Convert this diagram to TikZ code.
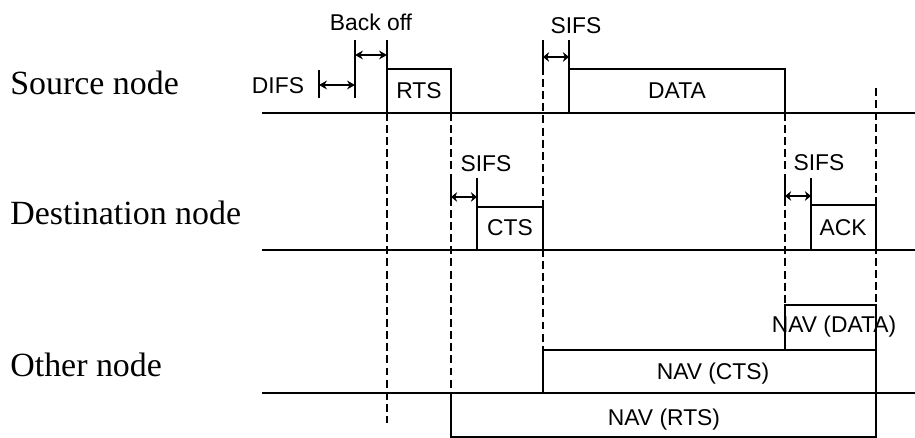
\documentclass[tikz,border=0pt]{standalone}
\usepackage{fontspec}
\setmainfont{Liberation Serif}
\newfontfamily\labelfont{Liberation Sans}
\usetikzlibrary{arrows.meta}

\begin{document}
\begin{tikzpicture}[x=0.02cm,y=-0.02cm,
    frame/.style={line width=1.1pt},
    guide/.style={line width=1.1pt,dash pattern=on 4.5pt off 2.4pt},
    gap/.style={line width=1.1pt,{Stealth[length=4.5pt,width=5pt]}-{Stealth[length=4.5pt,width=5pt]}},
    sifs/.style={line width=1.6pt,{Stealth[length=3.5pt,width=5.5pt]}-{Stealth[length=3.5pt,width=5.5pt]}},
    lbl/.style={font=\labelfont\fontsize{13}{15}\selectfont,inner sep=0pt},
    station/.style={font=\fontsize{19.3}{22}\selectfont,anchor=base west,inner sep=0pt}]
  \useasboundingbox (0,0) rectangle (915,438);

  %% Station names
  \node[station] (src) at (10,95)  {Source node};
  \node[station] (dst) at (10,225) {Destination node};
  \node[station] (oth) at (10,377) {Other node};

  %% Time axes
  \draw[frame] (262,113) -- (915,113);
  \draw[frame] (262,250) -- (915,250);
  \draw[frame] (262,393) -- (915,393);

  %% Vertical guides
  \draw[guide] (387,113) -- (387,423);
  \draw[guide] (451,113) -- (451,393);
  \draw[guide] (543,67) -- (543,350);
  \draw[guide] (785,113) -- (785,305);
  \draw[guide] (876,88) -- (876,305);

  %% Source node: DIFS, back off, RTS, SIFS, DATA
  \draw[frame] (319,70) -- (319,98);
  \draw[frame] (355,40) -- (355,98);
  \draw[frame] (387,40) -- (387,113);
  \draw[gap] (319,85) -- (355,85);
  \draw[gap] (355,55) -- (387,55);
  \node[lbl] (difs) at (278,86) {DIFS};
  \node[lbl] (boff) at (371,22) {Back off};
  \draw[frame] (387,69) rectangle (451,113);
  \node[lbl] (rts) at (419,91) {RTS};
  \draw[frame] (543,40) -- (543,67);
  \draw[frame] (569,40) -- (569,113);
  \draw[sifs] (543,57) -- (569,57);
  \node[lbl] (sifsa) at (576,26) {SIFS};
  \draw[frame] (569,69) rectangle (785,113);
  \node[lbl] (data) at (677,91) {DATA};

  %% Destination node: SIFS, CTS, SIFS, ACK
  \draw[frame] (451,175) -- (451,205);
  \draw[frame] (477,178) -- (477,250);
  \draw[sifs] (451,197) -- (477,197);
  \node[lbl] (sifsb) at (486,164) {SIFS};
  \draw[frame] (477,207) rectangle (543,250);
  \node[lbl] (cts) at (510,228) {CTS};
  \draw[frame] (785,178) -- (785,205);
  \draw[frame] (811,178) -- (811,250);
  \draw[sifs] (785,196) -- (811,196);
  \node[lbl] (sifsc) at (819,163) {SIFS};
  \draw[frame] (811,205) rectangle (876,250);
  \node[lbl] (ack) at (843,228) {ACK};

  %% Other node: NAV timers
  \draw[frame] (785,305) rectangle (876,350);
  \node[lbl] (navd) at (834,327) {NAV (DATA)};
  \draw[frame] (543,350) rectangle (876,393);
  \node[lbl] (navc) at (713,374) {NAV (CTS)};
  \draw[frame] (451,393) rectangle (876,437);
  \node[lbl] (navr) at (664,420) {NAV (RTS)};
\end{tikzpicture}
\end{document}
